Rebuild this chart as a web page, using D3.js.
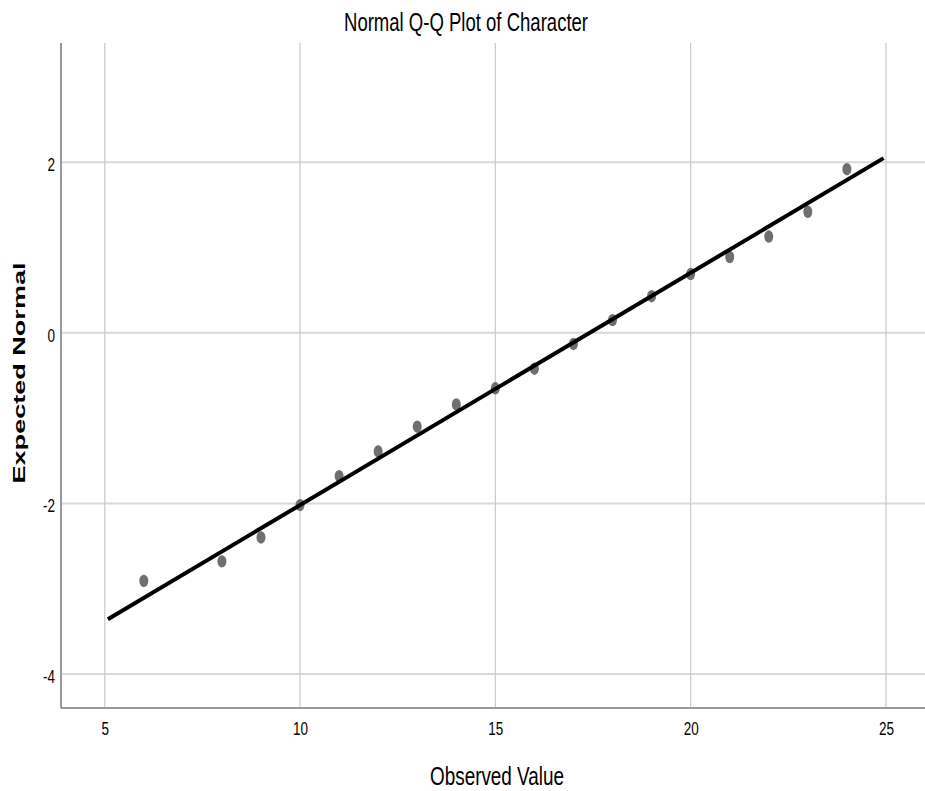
<!DOCTYPE html>
<html>
<head>
<meta charset="utf-8">
<script src="https://cdn.jsdelivr.net/npm/d3@7"></script>
<style>
  html, body { margin: 0; padding: 0; background: #fff; }
  svg { display: block; }
  text { font-family: "Liberation Sans", Arial, sans-serif; fill: #000; }
</style>
</head>
<body>
<svg id="chart" width="925" height="791"></svg>
<script>
// Observed scores and their expected normal quantiles
const observed = [6, 8, 9, 10, 11, 12, 13, 14, 15, 16, 17, 18, 19, 20, 21, 22, 23, 24];
const expectedNormal = [-2.91, -2.68, -2.40, -2.02, -1.68, -1.39, -1.10, -0.84, -0.65, -0.42, -0.13, 0.15, 0.43, 0.69, 0.89, 1.13, 1.42, 1.92];

// Reference line endpoints (observed, expected)
const refLineX = [5.08, 24.94];
const refLineY = [-3.36, 2.05];

const xTicks = [5, 10, 15, 20, 25];
const yTicks = [-4, -2, 0, 2];

const titleText = "Normal Q-Q Plot of Character";
const xLabel = "Observed Value";
const yLabel = "Expected Normal";

const svg = d3.select("#chart");
const plotLeft = 61, plotRight = 925, plotTop = 43, plotBottom = 708;
const squeeze = 0.75; // horizontal text compression

const x = d3.scaleLinear().domain([3.88, 26.0]).range([plotLeft, plotRight]);
const y = d3.scaleLinear().domain([-4.40, 3.40]).range([plotBottom, plotTop]);

// Grid lines
svg.append("g").selectAll("line").data(yTicks).join("line")
  .attr("x1", plotLeft).attr("x2", plotRight)
  .attr("y1", d => y(d)).attr("y2", d => y(d))
  .attr("stroke", "#d9d9d9").attr("stroke-width", 2);
svg.append("g").selectAll("line").data(xTicks).join("line")
  .attr("y1", plotTop).attr("y2", plotBottom)
  .attr("x1", d => x(d)).attr("x2", d => x(d))
  .attr("stroke", "#cdcdcd").attr("stroke-width", 1.3);

// Axes (plain hyphen for negatives)
const fmt = d => String(d);
const xAxis = svg.append("g").attr("transform", `translate(0,${plotBottom})`)
  .call(d3.axisBottom(x).tickValues(xTicks).tickSize(0).tickPadding(0).tickFormat(fmt));
xAxis.select(".domain").remove();
xAxis.selectAll("text")
  .attr("y", 27).attr("dy", 0)
  .style("font-size", "18px")
  .attr("fill", "#000")
  .attr("transform", `scale(${squeeze},1)`);

const yAxis = svg.append("g").attr("transform", `translate(${plotLeft},0)`)
  .call(d3.axisLeft(y).tickValues(yTicks).tickSize(0).tickPadding(0).tickFormat(fmt));
yAxis.select(".domain").remove();
yAxis.selectAll("text")
  .attr("x", -6 / squeeze).attr("dy", "0.62em").attr("y", -3)
  .style("font-size", "18px")
  .attr("fill", "#000")
  .attr("transform", `scale(${squeeze},1)`);

// Axis lines along the full plot extent
svg.append("line").attr("x1", plotLeft).attr("x2", plotLeft).attr("y1", plotTop).attr("y2", plotBottom)
  .attr("stroke", "#999").attr("stroke-width", 2);
svg.append("line").attr("x1", plotLeft).attr("x2", plotRight).attr("y1", plotBottom).attr("y2", plotBottom)
  .attr("stroke", "#999").attr("stroke-width", 2);

// Points
svg.append("g").selectAll("ellipse").data(observed).join("ellipse")
  .attr("cx", d => x(d))
  .attr("cy", (d, i) => y(expectedNormal[i]))
  .attr("rx", 4.5).attr("ry", 6.2)
  .attr("fill", "#6f6f6f");

// Reference line
svg.append("line")
  .attr("x1", x(refLineX[0])).attr("y1", y(refLineY[0]))
  .attr("x2", x(refLineX[1])).attr("y2", y(refLineY[1]))
  .attr("stroke", "#000").attr("stroke-width", 4);

// Title
svg.append("text")
  .attr("transform", `translate(466,31) scale(${squeeze},1)`)
  .attr("text-anchor", "middle")
  .style("font-size", "25px")
  .attr("textLength", 244 / squeeze)
  .attr("lengthAdjust", "spacingAndGlyphs")
  .text(titleText);

// X label
svg.append("text")
  .attr("transform", `translate(497,785) scale(${squeeze},1)`)
  .attr("text-anchor", "middle")
  .style("font-size", "25px")
  .attr("textLength", 134 / squeeze)
  .attr("lengthAdjust", "spacingAndGlyphs")
  .text(xLabel);

// Y label
svg.append("text")
  .attr("transform", `translate(25,373) scale(${squeeze},1) rotate(-90)`)
  .attr("text-anchor", "middle")
  .style("font-size", "22px")
  .style("font-weight", "bold")
  .attr("textLength", 221)
  .attr("lengthAdjust", "spacingAndGlyphs")
  .text(yLabel);
</script>
</body>
</html>
